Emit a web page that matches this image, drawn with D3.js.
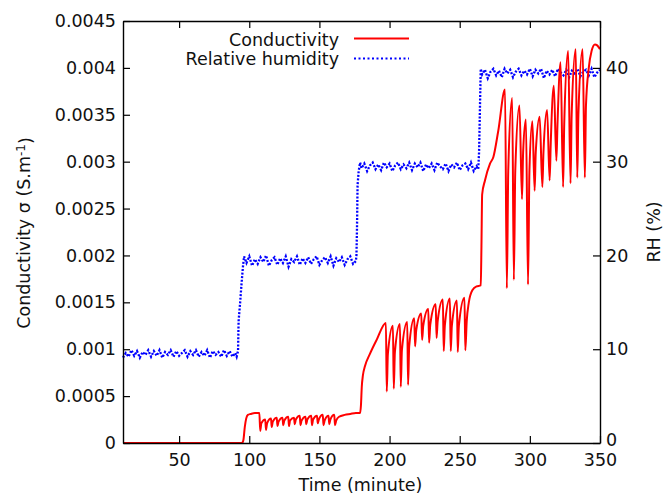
<!DOCTYPE html>
<html><head><meta charset="utf-8">
<script src="https://cdn.jsdelivr.net/npm/d3@7"></script>
<style>
html,body{margin:0;padding:0;background:#fff;}
text{font-family:"DejaVu Sans",sans-serif;}
</style></head>
<body>
<svg id="chart" width="665" height="500"></svg>
<script>
const xTicks = [50, 100, 150, 200, 250, 300, 350];
const yTicks = [0, 0.0005, 0.001, 0.0015, 0.002, 0.0025, 0.003, 0.0035, 0.004, 0.0045];
const yTickLabels = ["0", "0.0005", "0.001", "0.0015", "0.002", "0.0025", "0.003", "0.0035", "0.004", "0.0045"];
const rhTicks = [0, 10, 20, 30, 40];
const seriesNames = ["Conductivity", "Relative humidity"];

// Conductivity (S/m) vs time (minute)
const conductivity = [
 [10,0],[60,0],[94.8,0],[95.8,0.00003],[96.8,0.00017],[97.8,0.00026],[99,0.0003],[101,0.00031],[104,0.00032],[107.2,0.00032],
 [107.8,0.00013],[108.6,0.00021],[111.4,0.00025],
 [111.9,0.00014],[112.7,0.00021],[115.5,0.00026],
 [116.0,0.00017],[116.8,0.00023],[119.6,0.00027],
 [120.1,0.00018],[120.9,0.00023],[123.7,0.00027],
 [124.2,0.00019],[125.0,0.00024],[127.8,0.00028],
 [128.3,0.00018],[129.1,0.00024],[131.9,0.00027],
 [132.4,0.00020],[133.2,0.00025],[136.0,0.00029],
 [136.5,0.00019],[137.3,0.00024],[140.1,0.00028],
 [140.6,0.00020],[141.4,0.00025],[144.2,0.00029],
 [144.7,0.00019],[145.5,0.00025],[148.3,0.00029],
 [148.8,0.00021],[149.6,0.00025],[152.4,0.00030],
 [152.9,0.00019],[153.7,0.00024],[156.5,0.00029],
 [157.0,0.00020],[157.8,0.00025],[160.6,0.00030],
 [161.1,0.00019],[162.0,0.00024],[164,0.00028],[168,0.0003],[172,0.00031],[176,0.00032],[179,0.00032],
 [179.6,0.0004],[180.2,0.0006],[181,0.00072],[182.5,0.00082],[186,0.00095],[190.8,0.0011],[197.4,0.00128],
 [198.0,0.00055],[198.8,0.00095],[202.4,0.00125],
 [203.0,0.00058],[203.8,0.00097],[207.4,0.00127],
 [208.0,0.0006],[208.8,0.00099],[212.6,0.00129],
 [213.2,0.00062],[214.0,0.00103],[217.6,0.00133],
 [218.2,0.00103],[219.0,0.00120],[222.6,0.00138],
 [223.2,0.0011],[224.0,0.00125],[227.6,0.00143],
 [228.2,0.00107],[229.0,0.00126],[232.9,0.00148],
 [233.5,0.00112],[234.3,0.0013],[238.0,0.00153],
 [238.6,0.00098],[239.4,0.00125],[243.0,0.00154],
 [243.6,0.00098],[244.4,0.00125],[248.0,0.00152],
 [248.6,0.00097],[249.4,0.00125],[253.4,0.00155],
 [254.0,0.00099],[255,0.0013],[256.5,0.0015],[259,0.00163],[262,0.00167],[265,0.00168],
 [265.5,0.0021],[266,0.00265],[268,0.0028],[271.6,0.00298],[274,0.00305],[277.5,0.00333],[282.3,0.00377],
 [283.6,0.00165],[284.6,0.0029],[287.4,0.00368],
 [288.6,0.00174],[289.6,0.0029],[292.6,0.0036],
 [294.4,0.0026],[295.2,0.0031],[297.2,0.00345],
 [298.7,0.00169],[299.7,0.0029],[301.8,0.00343],
 [303.4,0.00269],[304.2,0.0031],[307.0,0.00348],
 [308.9,0.00273],[309.7,0.0031],[312.3,0.00355],
 [314.1,0.0028],[314.9,0.0032],[317.1,0.00381],
 [318.9,0.00301],[319.7,0.0034],[321.9,0.00406],
 [323.7,0.00273],[324.5,0.0034],[327.3,0.00418],
 [329.0,0.00277],[329.8,0.0035],[332.7,0.0042],
 [333.8,0.00283],[334.6,0.0035],[337.6,0.0042],
 [339.2,0.00283],[340,0.0036],[342,0.004],[344,0.00418],[346.4,0.00425],[348,0.00424],[350,0.0042]
];

// Relative humidity (%) vs time (minute)
const humidity = [
 [10,9.1],[12,9.6],[14,9.2],[16,9.9],[18,9.3],[20,9.8],[22,9.1],[24,9.7],[26,9.4],[28,9.9],
 [30,9.2],[32,9.8],[34,9.3],[36,9.9],[38,9.1],[40,9.7],[42,9.4],[44,9.9],[46,9.2],[48,9.8],
 [50,9.3],[52,9.6],[54,9.9],[56,9.2],[58,9.8],[60,9.4],[62,9.9],[64,9.2],[66,9.7],[68,9.3],
 [70,9.9],[72,9.1],[74,9.8],[76,9.4],[78,9.7],[80,9.2],[82,9.9],[84,9.3],[86,9.8],[88,9.2],
 [90,9.6],[91,9.2],[92,9.8],[92.4,13],[93.5,15],[94.5,17],[95.5,18.8],[96.3,19.9],
 [98,19.2],[100,19.9],[102,18.9],[104,19.6],[106,19.1],[108,19.8],[110,19.3],[112,20.0],[114,18.9],[116,19.5],
 [118,19.8],[120,19.0],[122,19.7],[124,19.2],[126,19.9],[128,18.8],[130,19.6],[132,19.3],[134,19.9],[136,19.0],
 [138,19.7],[140,19.2],[142,19.8],[144,19.1],[146,19.6],[148,19.9],[150,19.0],[152,19.5],[154,19.8],[156,19.2],
 [158,19.9],[160,18.9],[162,19.7],[164,19.3],[166,19.8],[168,19.0],[170,19.6],[172,19.9],[174,19.1],[176,19.4],
 [176.4,20],[176.8,23],[177.2,27.5],[178,29],[179,29.9],
 [180,29.3],[182,29.8],[184,29.0],[186,29.6],[188,29.9],[190,29.2],[192,29.7],[194,29.1],[196,29.9],[198,29.4],
 [200,29.8],[202,29.0],[204,29.6],[206,29.9],[208,29.2],[210,29.7],[212,29.3],[214,29.9],[216,29.1],[218,29.8],
 [220,29.4],[222,29.9],[224,29.0],[226,29.7],[228,29.3],[230,29.8],[232,29.1],[234,29.9],[236,29.5],[238,29.2],
 [240,29.8],[242,29.0],[244,29.7],[246,29.4],[248,29.9],[250,29.1],[252,29.6],[254,29.8],[256,29.2],[258,29.9],
 [260,29.0],[262,29.5],[263.2,29.2],[263.8,31],[264.2,34],[264.6,37],[265,39.9],
 [266,39.3],[268,39.8],[270,38.9],[272,39.6],[274,39.9],[276,39.2],[278,39.7],[280,39.0],[282,39.9],[284,39.4],
 [286,39.8],[288,39.0],[290,39.6],[292,39.9],[294,39.2],[296,39.7],[298,39.3],[300,39.9],[302,39.1],[304,39.8],
 [306,39.4],[308,39.9],[310,38.9],[312,39.7],[314,39.3],[316,39.8],[318,39.1],[320,39.9],[322,39.5],[324,39.2],
 [326,39.8],[328,39.0],[330,39.7],[332,39.4],[334,39.9],[336,39.1],[338,39.6],[340,39.8],[342,39.2],[344,39.9],
 [346,39.0],[348,39.5],[350,39.8]
];

const svg = d3.select("#chart");
const mLeft = 123, mRight = 600, mTop = 21, mBottom = 443;
const x = d3.scaleLinear().domain([10, 350]).range([mLeft, mRight]);
const y = d3.scaleLinear().domain([0, 0.0045]).range([mBottom, mTop]);
const y2 = d3.scaleLinear().domain([0, 45]).range([mBottom, mTop]);
const fs = "17.5px";

// lines
const condLine = d3.line().x(d => x(d[0])).y(d => y(d[1])).curve(d3.curveMonotoneX);
const rhLine = d3.line().x(d => x(d[0])).y(d => y2(d[1]));

svg.append("path").datum(humidity)
  .attr("d", rhLine).attr("fill", "none").attr("stroke", "#0000ff")
  .attr("stroke-width", 2.3).attr("stroke-dasharray", "2,1.6");
svg.append("path").datum(conductivity)
  .attr("d", condLine).attr("fill", "none").attr("stroke", "#ff0000")
  .attr("stroke-width", 2).attr("stroke-linejoin", "round");

// axes
function style(g) {
  g.select(".domain").attr("stroke", "#000").attr("stroke-width", 1.4);
  g.selectAll(".tick line").attr("stroke", "#000").attr("stroke-width", 1.2);
  g.selectAll("text").attr("font-size", fs).attr("fill", "#111").attr("font-family", "DejaVu Sans");
}
svg.append("g").attr("transform", `translate(0,${mBottom})`)
  .call(d3.axisBottom(x).tickValues(xTicks).tickSize(-7).tickSizeOuter(0).tickPadding(11).tickFormat(d3.format("d")))
  .call(style);
svg.append("g").attr("transform", `translate(0,${mTop})`)
  .call(d3.axisTop(x).tickValues(xTicks).tickSize(-7).tickSizeOuter(0).tickFormat(""))
  .call(style);
svg.append("g").attr("transform", `translate(${mLeft},0)`)
  .call(d3.axisLeft(y).tickValues(yTicks).tickSize(-7).tickSizeOuter(0).tickPadding(7)
    .tickFormat((d, i) => yTickLabels[i]))
  .call(style);
const rAx = svg.append("g").attr("transform", `translate(${mRight},0)`)
  .call(d3.axisRight(y2).tickValues(rhTicks).tickSize(-7).tickSizeOuter(0).tickPadding(6).tickFormat(d3.format("d")))
  .call(style);
rAx.selectAll(".tick text").filter(d => d === 0).attr("dy", "0.12em");

// axis titles
svg.append("text").attr("x", (mLeft + mRight) / 2 - 1).attr("y", 491)
  .attr("text-anchor", "middle").attr("font-size", fs).attr("fill", "#111").text("Time (minute)");
const yl = svg.append("text").attr("transform", "translate(30,233) rotate(-90)")
  .attr("text-anchor", "middle").attr("font-size", fs).attr("fill", "#111");
yl.append("tspan").text("Conductivity σ (S.m");
yl.append("tspan").attr("dy", "-0.45em").attr("font-size", "12px").text("-1");
yl.append("tspan").attr("dy", "0.45em").text(")");
svg.append("text").attr("transform", "translate(660,232) rotate(-90)")
  .attr("text-anchor", "middle").attr("font-size", fs).attr("fill", "#111").text("RH (%)");

// legend
const leg = svg.append("g");
leg.append("text").attr("x", 339).attr("y", 46).attr("text-anchor", "end")
  .attr("font-size", fs).attr("fill", "#111").text(seriesNames[0]);
leg.append("line").attr("x1", 354).attr("x2", 409).attr("y1", 38.5).attr("y2", 38.5)
  .attr("stroke", "#ff0000").attr("stroke-width", 2);
leg.append("text").attr("x", 339).attr("y", 64.5).attr("text-anchor", "end")
  .attr("font-size", fs).attr("fill", "#111").text(seriesNames[1]);
leg.append("line").attr("x1", 354).attr("x2", 409).attr("y1", 58.5).attr("y2", 58.5)
  .attr("stroke", "#0000ff").attr("stroke-width", 2).attr("stroke-dasharray", "2,2.5");
</script>
</body></html>
